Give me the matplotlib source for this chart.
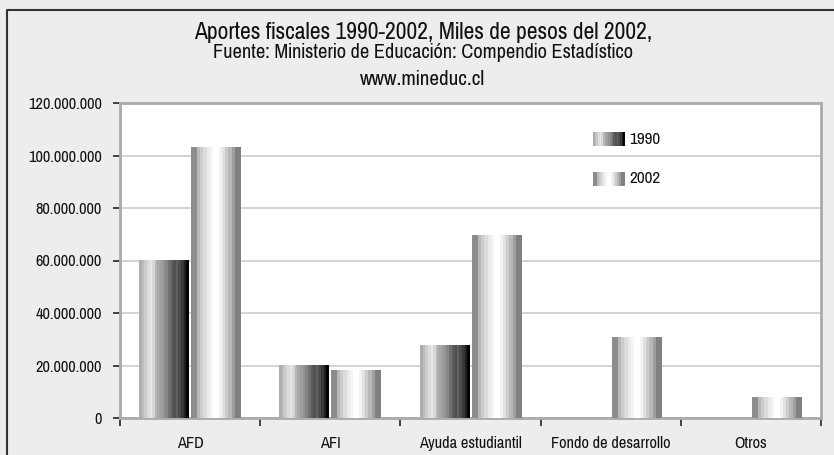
import numpy as np
import matplotlib
matplotlib.use("Agg")
import matplotlib.pyplot as plt
from matplotlib import font_manager as fm
from matplotlib.lines import Line2D
from matplotlib.ticker import FuncFormatter, FixedLocator, NullFormatter

_avail = {f.name for f in fm.fontManager.ttflist}
_cands = ['Liberation Sans Narrow', 'Arial Narrow', 'Pragati Narrow', 'Archivo Narrow',
          'PT Sans Narrow', 'Roboto Condensed', 'Encode Sans Condensed', 'Liberation Sans']
_font = next((c for c in _cands if c in _avail), 'DejaVu Sans')
plt.rcParams['font.family'] = [_font, 'DejaVu Sans']

categories = ["AFD", "AFI", "Ayuda estudiantil", "Fondo de desarrollo", "Otros"]
series_names = ["1990", "2002"]
values_1990 = [60_000_000, 20_000_000, 27_700_000, 0, 0]
values_2002 = [103_000_000, 18_000_000, 69_500_000, 30_800_000, 8_000_000]
title_lines = ["Aportes fiscales 1990-2002, Miles de pesos del 2002,",
               "Fuente: Ministerio de Educación: Compendio Estadístico",
               "www.mineduc.cl"]

grad_1990 = np.array([0.68, 0.74, 0.80, 0.86, 0.90, 0.84, 0.72, 0.66, 0.62, 0.58,
                      0.52, 0.44, 0.36, 0.32, 0.38, 0.30, 0.22, 0.12, 0.0])
grad_2002 = np.array([0.55, 0.55, 0.72, 0.80, 0.86, 0.92, 0.96, 1.0, 1.0, 0.95,
                      0.88, 0.80, 0.72, 0.62, 0.50, 0.50])

fig = plt.figure(figsize=(8.34, 4.55), dpi=100)
fig.patch.set_facecolor('#ededed')
ax = fig.add_axes([120/834, 1-418/455, 701/834, 315/455])
ax.set_facecolor('white')

x = np.arange(len(categories))
w = 0.355
offs = [-0.185, 0.185]
ax.yaxis.grid(True, color='#d0d0d0', lw=1.3)
ax.set_axisbelow(True)

for vals, off, grad in [(values_1990, offs[0], grad_1990), (values_2002, offs[1], grad_2002)]:
    bars = ax.bar(x + off, vals, width=w, color='none', edgecolor='none', zorder=2)
    for b in bars:
        h = b.get_height()
        if h <= 0:
            continue
        x0 = b.get_x()
        ax.imshow(grad[np.newaxis, :], extent=[x0, x0 + b.get_width(), 0, h],
                  aspect='auto', cmap='gray', vmin=0, vmax=1,
                  interpolation='nearest', zorder=3)

ax.set_xlim(-0.5, len(categories) - 0.5)
ax.set_ylim(0, 120_000_000)
ax.set_yticks(np.arange(0, 120_000_001, 20_000_000))
ax.yaxis.set_major_formatter(FuncFormatter(lambda v, p: f"{int(v):,}".replace(",", ".")))
ax.xaxis.set_major_locator(FixedLocator(np.arange(-0.5, len(categories), 1.0)))
ax.xaxis.set_major_formatter(NullFormatter())
ax.xaxis.set_minor_locator(FixedLocator(x))
ax.set_xticklabels(categories, minor=True)
ax.tick_params(axis='x', which='minor', length=0, pad=13, labelsize=12.8, colors='#111')
ax.tick_params(axis='x', which='major', length=6, width=1.3, color='#333', direction='out')
ax.tick_params(axis='y', length=5, width=1.3, color='#333', labelsize=12.8, labelcolor='#111', pad=8)

for s in ['left', 'right', 'top', 'bottom']:
    ax.spines[s].set_color('#aaaaaa')
    ax.spines[s].set_linewidth(2)

# legend
leg_items = [(series_names[0], grad_1990, 0.883), (series_names[1], grad_2002, 0.759)]
for name, grad, yc in leg_items:
    ax.imshow(grad[np.newaxis, :], extent=[0.675, 0.72, yc - 0.021, yc + 0.021],
              transform=ax.transAxes, aspect='auto', cmap='gray', vmin=0, vmax=1,
              interpolation='nearest', zorder=5)
    ax.text(0.727, yc, name, transform=ax.transAxes, va='center', ha='left',
            fontsize=13.5, color='#111')
ax.set_xlim(-0.5, len(categories) - 0.5)
ax.set_ylim(0, 120_000_000)

fig.text(0.507, 1-39/455, title_lines[0], ha='center', va='baseline', fontsize=18.5, color='#111')
fig.text(0.507, 1-58/455, title_lines[1], ha='center', va='baseline', fontsize=16, color='#111')
fig.text(0.507, 1-85/455, title_lines[2], ha='center', va='baseline', fontsize=16.5, color='#111')

fig.add_artist(Line2D([7/834, 7/834, 1], [0, 1-10/455, 1-10/455],
                      transform=fig.transFigure, color='#333333', lw=1.5))

fig.savefig('out.png', dpi=100, facecolor=fig.get_facecolor())
